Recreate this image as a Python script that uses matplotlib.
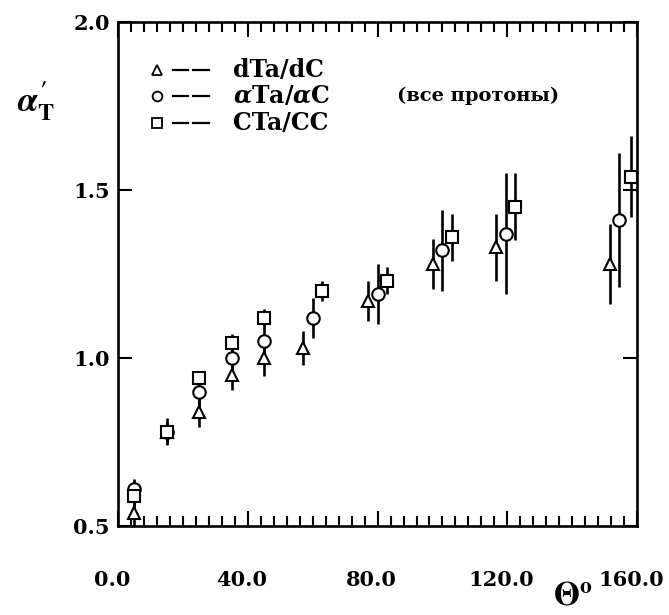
import matplotlib
matplotlib.use("Agg")
import matplotlib.pyplot as plt
import matplotlib.ticker as ticker
import matplotlib.transforms as mtransforms

# angle (deg) and ratio values for each data set
theta_d = [5, 15, 25, 35, 45, 57, 77, 97, 116.5, 151.5]
ratio_d = [0.54, 0.78, 0.84, 0.95, 1.00, 1.03, 1.17, 1.28, 1.33, 1.28]
err_d = [0.04, 0.04, 0.045, 0.045, 0.055, 0.05, 0.06, 0.075, 0.10, 0.12]

theta_a = [5, 15, 25, 35, 45, 60, 80, 100, 119.5, 154.5]
ratio_a = [0.61, 0.78, 0.90, 1.00, 1.05, 1.12, 1.19, 1.32, 1.37, 1.41]
err_a = [0.03, 0.03, 0.04, 0.04, 0.05, 0.06, 0.09, 0.12, 0.18, 0.20]

theta_c = [5, 15, 25, 35, 45, 63, 83, 103, 122.5, 158]
ratio_c = [0.59, 0.78, 0.94, 1.045, 1.12, 1.20, 1.23, 1.36, 1.45, 1.54]
err_c = [0.03, 0.03, 0.02, 0.025, 0.025, 0.03, 0.04, 0.07, 0.10, 0.12]

labels = ["dTa/dC", r"$\alpha$Ta/$\alpha$C", "CTa/CC"]
markers = ["^", "o", "s"]
xticks = [0, 40, 80, 120, 160]
yticks = [0.5, 1.0, 1.5, 2.0]

plt.rcParams['font.family'] = ['DejaVu Serif']
plt.rcParams['font.weight'] = 'bold'
plt.rcParams['mathtext.fontset'] = 'dejavuserif'

fig = plt.figure(figsize=(6.69, 6.15), dpi=100)
ax = fig.add_axes([0.1764, 0.1447, 0.776, 0.8195])

sets = [(theta_d, ratio_d, err_d), (theta_a, ratio_a, err_a), (theta_c, ratio_c, err_c)]
for (t, r, e), m in zip(sets, markers):
    ax.errorbar(t, r, yerr=e, linestyle='None', marker=m, color='black',
                mfc='white', mec='black', ms=8 if m == 's' else 9, mew=1.5,
                elinewidth=1.9, capsize=0)

ax.set_xlim(0, 160)
ax.set_ylim(0.5, 2.0)
ax.set_xticks(xticks)
ax.set_xticklabels(["%.1f" % v for v in xticks])
ax.set_yticks(yticks)
ax.set_yticklabels(["%.1f" % v for v in yticks])
ax.xaxis.set_minor_locator(ticker.MultipleLocator(4))
ax.tick_params(axis='x', which='both', direction='in', top=True, labelsize=15, pad=32)
ax.tick_params(axis='x', which='major', length=11, width=1.5)
ax.tick_params(axis='x', which='minor', length=7, width=1.5)
ax.tick_params(axis='y', which='major', direction='in', right=True, labelsize=15,
               length=10, width=1.5, pad=6)
shift = mtransforms.ScaledTranslation(-6 / 100, 0, fig.dpi_scale_trans)
for lbl in ax.get_xticklabels():
    lbl.set_transform(lbl.get_transform() + shift)
for s in ax.spines.values():
    s.set_linewidth(1.9)

# hand-drawn legend
leg_y = [0.905, 0.853, 0.800]
for yy, m, lab in zip(leg_y, markers, labels):
    ax.plot([0.075], [yy], marker=m, ms=7 if m != 's' else 6.5, mfc='white',
            mec='black', mew=1.3, transform=ax.transAxes, clip_on=False)
    for x0 in (0.105, 0.145):
        ax.plot([x0, x0 + 0.03], [yy, yy], color='black', lw=1.6, transform=ax.transAxes)
    ax.text(0.222, yy, lab, transform=ax.transAxes, fontsize=17, va='center', ha='left')

ax.text(0.538, 0.853, "(все протоны)", transform=ax.transAxes, fontsize=14,
        va='center', ha='left')

fig.text(0.054, 0.837, r"$\alpha_{\mathbf{T}}^{\prime}$", fontsize=25,
         ha='center', va='center', math_fontfamily='stix')
fig.text(0.857, 0.033, r"$\Theta^{\mathbf{o}}$", fontsize=24, ha='center', va='center',
         math_fontfamily='stix')

plt.savefig("out.png", dpi=100)
